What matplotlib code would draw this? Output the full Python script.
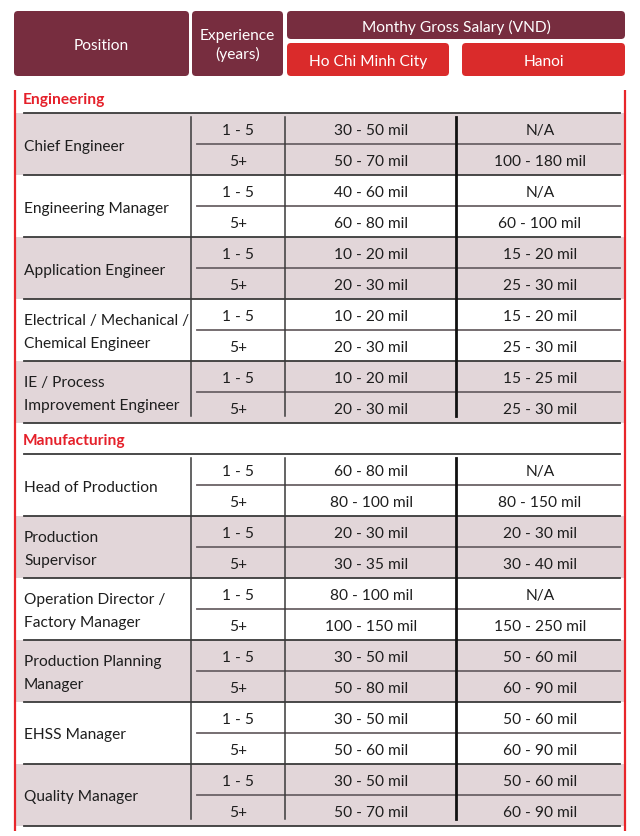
import matplotlib
matplotlib.use("Agg")
import matplotlib.pyplot as plt
from matplotlib.patches import FancyBboxPatch, Rectangle

plt.rcParams['font.family'] = ['Lato', 'DejaVu Sans']

# -------------------
# данные
# -------------------
sections = ["Engineering", "Manufacturing"]
section_sizes = [5, 6]

positions = [
    "Chief Engineer",
    "Engineering Manager",
    "Application Engineer",
    "Electrical / Mechanical /\nChemical Engineer",
    "IE / Process\nImprovement Engineer",
    "Head of Production",
    "Production\nSupervisor",
    "Operation Director /\nFactory Manager",
    "Production Planning\nManager",
    "EHSS Manager",
    "Quality Manager",
]
experience = ["1 - 5", "5+"]

hcm_junior = ["30 - 50 mil", "40 - 60 mil", "10 - 20 mil", "10 - 20 mil", "10 - 20 mil",
              "60 - 80 mil", "20 - 30 mil", "80 - 100 mil", "30 - 50 mil", "30 - 50 mil", "30 - 50 mil"]
hcm_senior = ["50 - 70 mil", "60 - 80 mil", "20 - 30 mil", "20 - 30 mil", "20 - 30 mil",
              "80 - 100 mil", "30 - 35 mil", "100 - 150 mil", "50 - 80 mil", "50 - 60 mil", "50 - 70 mil"]
hanoi_junior = ["N/A", "N/A", "15 - 20 mil", "15 - 20 mil", "15 - 25 mil",
                "N/A", "20 - 30 mil", "N/A", "50 - 60 mil", "50 - 60 mil", "50 - 60 mil"]
hanoi_senior = ["100 - 180 mil", "60 - 100 mil", "25 - 30 mil", "25 - 30 mil", "25 - 30 mil",
                "80 - 150 mil", "30 - 40 mil", "150 - 250 mil", "60 - 90 mil", "60 - 90 mil", "60 - 90 mil"]

header_labels = ["Position", "Experience\n(years)", "Monthy Gross Salary (VND)", "Ho Chi Minh City", "Hanoi"]

# -------------------
# стиль
# -------------------
W, H = 640, 837
DARK = "#772D3F"
RED = "#DA2B2B"
SHADE = "#E2D6D9"
LABEL_RED = "#E5202A"
LINE = "#3a3a3a"
SUB_LINE = "#6b6266"
TXT = "#1e1e1e"
FS = 11.2
DY = 1.5  # текст чуть ниже центра

ROW_H = 62
X_LEFT, X_RIGHT = 15, 625
X_POS_TXT = 23
X_SEP1, X_SEP2, X_SEP3 = 191, 285, 456
X_LINE_L, X_LINE_R = 24, 620
X_EXP, X_HCM, X_HN = 238, 371, 540

fig = plt.figure(figsize=(W / 100, H / 100), dpi=100)
ax = fig.add_axes([0, 0, 1, 1])
ax.set_xlim(0, W)
ax.set_ylim(H, 0)
ax.axis('off')


def box(x0, y0, x1, y1, color, text, fs=11.2):
    ax.add_patch(FancyBboxPatch((x0, y0), x1 - x0, y1 - y0,
                                boxstyle="round,pad=0,rounding_size=4",
                                fc=color, ec='none'))
    ax.text((x0 + x1) / 2, (y0 + y1) / 2 + 1, text, color='white', fontsize=fs,
            ha='center', va='center', linespacing=1.4)


# шапка
box(14, 12, 189, 77, DARK, header_labels[0])
box(192, 12, 283, 77, DARK, header_labels[1])
box(287, 12, 625, 40, DARK, header_labels[2])
box(287, 44, 449, 77, RED, header_labels[3])
box(462, 44, 625, 77, RED, header_labels[4])

# красные боковые линии
ax.plot([X_LEFT, X_LEFT], [91, 832], color="#E8262B", lw=1.6, solid_capstyle='butt')
ax.plot([X_RIGHT, X_RIGHT], [91, 832], color="#E8262B", lw=1.6, solid_capstyle='butt')

y = 90
idx = 0
for s, name in enumerate(sections):
    ax.text(X_POS_TXT, y + 9.5, name, color=LABEL_RED, fontsize=11.2, fontweight='bold',
            ha='left', va='center')
    top = y + 24
    for k in range(section_sizes[s]):
        g0 = top + k * ROW_H
        mid = g0 + ROW_H / 2
        if idx % 2 == 0:
            ax.add_patch(Rectangle((X_LEFT + 1, g0), X_RIGHT - X_LEFT - 2, ROW_H,
                                   fc=SHADE, ec='none', zorder=0))
        ax.plot([X_LINE_L, X_LINE_R], [g0, g0], color=LINE, lw=1.3, zorder=2)
        ax.plot([X_SEP1 + 6, X_LINE_R], [mid, mid], color=SUB_LINE, lw=1.3, zorder=2)

        ax.text(X_POS_TXT + 1, mid + DY, positions[idx], color=TXT, fontsize=FS,
                ha='left', va='center', linespacing=1.75)
        vals = [(hcm_junior[idx], hanoi_junior[idx]), (hcm_senior[idx], hanoi_senior[idx])]
        for j in range(2):
            yc = g0 + ROW_H / 4 + j * ROW_H / 2 + DY
            ax.text(X_EXP, yc, experience[j], color=TXT, fontsize=FS, ha='center', va='center')
            ax.text(X_HCM, yc, vals[j][0], color=TXT, fontsize=FS, ha='center', va='center')
            ax.text(X_HN, yc, vals[j][1], color=TXT, fontsize=FS, ha='center', va='center')
        idx += 1
    bottom = top + section_sizes[s] * ROW_H
    ax.plot([X_LINE_L, X_LINE_R], [bottom, bottom], color=LINE, lw=1.3, zorder=2)
    ax.plot([X_SEP1, X_SEP1], [top + 4, bottom - 7], color=LINE, lw=1.1, zorder=3)
    ax.plot([X_SEP2, X_SEP2], [top + 4, bottom - 7], color=LINE, lw=1.1, zorder=3)
    ax.plot([X_SEP3, X_SEP3], [top + 4, bottom - 7], color="#111111", lw=2.0, zorder=3)
    y = bottom + 7

fig.savefig("out.png", dpi=100)
